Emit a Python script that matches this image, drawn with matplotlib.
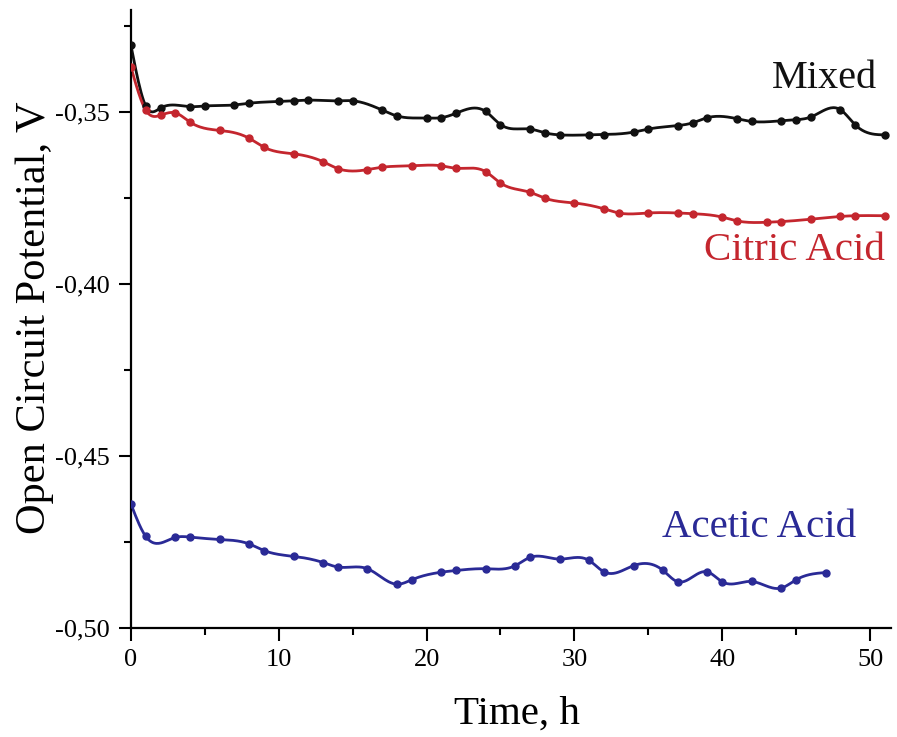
import numpy as np
import matplotlib
matplotlib.use("Agg")
import matplotlib.pyplot as plt
from matplotlib.ticker import MultipleLocator, FuncFormatter

plt.rcParams['font.family'] = ['Liberation Serif', 'DejaVu Serif']

# Open circuit potential (V) versus immersion time (h)
mixed_t = [0, 1, 2, 4, 5, 7, 8, 10, 11, 12, 14, 15, 17, 18, 20, 21, 22, 24, 25,
           27, 28, 29, 31, 32, 34, 35, 37, 38, 39, 41, 42, 44, 45, 46, 48, 49, 51]
mixed_v = [-0.3307, -0.3483, -0.3489, -0.3485, -0.3483, -0.3480, -0.3475, -0.3470,
           -0.3468, -0.3466, -0.3468, -0.3468, -0.3495, -0.3512, -0.3518, -0.3517,
           -0.3504, -0.3499, -0.3537, -0.3550, -0.3561, -0.3567, -0.3567, -0.3566,
           -0.3559, -0.3550, -0.3540, -0.3532, -0.3517, -0.3520, -0.3528, -0.3526,
           -0.3523, -0.3515, -0.3494, -0.3538, -0.3567]

citric_t = [0, 1, 2, 3, 4, 6, 8, 9, 11, 13, 14, 16, 17, 19, 21, 22, 24, 25, 27,
            28, 30, 32, 33, 35, 37, 38, 40, 41, 43, 44, 46, 48, 49, 51]
citric_v = [-0.3370, -0.3495, -0.3510, -0.3503, -0.3530, -0.3554, -0.3577, -0.3603,
            -0.3622, -0.3645, -0.3665, -0.3668, -0.3661, -0.3657, -0.3657, -0.3664,
            -0.3674, -0.3707, -0.3734, -0.3751, -0.3765, -0.3782, -0.3794, -0.3794,
            -0.3794, -0.3796, -0.3806, -0.3817, -0.3821, -0.3819, -0.3812, -0.3804,
            -0.3802, -0.3802]

acetic_t = [0, 1, 3, 4, 6, 8, 9, 11, 13, 14, 16, 18, 19, 21, 22, 24, 26, 27, 29,
            31, 32, 34, 36, 37, 39, 40, 42, 44, 45, 47]
acetic_v = [-0.4640, -0.4734, -0.4737, -0.4736, -0.4743, -0.4756, -0.4775, -0.4792,
            -0.4810, -0.4823, -0.4828, -0.4873, -0.4860, -0.4838, -0.4833, -0.4828,
            -0.4819, -0.4795, -0.4800, -0.4804, -0.4837, -0.4819, -0.4833, -0.4866,
            -0.4837, -0.4866, -0.4865, -0.4884, -0.4860, -0.4839]

series_names = ["Mixed", "Citric Acid", "Acetic Acid"]
series_colors = ["#111111", "#c4262e", "#2a2a96"]


def natural_spline(x, y, n=600):
    """Natural cubic spline through (x, y), sampled densely for a smooth line."""
    x = np.asarray(x, float)
    y = np.asarray(y, float)
    h = np.diff(x)
    m = len(x)
    A = np.zeros((m, m))
    b = np.zeros(m)
    A[0, 0] = A[-1, -1] = 1.0
    for i in range(1, m - 1):
        A[i, i - 1] = h[i - 1]
        A[i, i] = 2 * (h[i - 1] + h[i])
        A[i, i + 1] = h[i]
        b[i] = 6 * ((y[i + 1] - y[i]) / h[i] - (y[i] - y[i - 1]) / h[i - 1])
    M = np.linalg.solve(A, b)
    xs = np.linspace(x[0], x[-1], n)
    idx = np.clip(np.searchsorted(x, xs) - 1, 0, m - 2)
    x0, x1 = x[idx], x[idx + 1]
    hh = x1 - x0
    a = (x1 - xs) / hh
    c = (xs - x0) / hh
    ys = (a * y[idx] + c * y[idx + 1]
          + ((a ** 3 - a) * M[idx] + (c ** 3 - c) * M[idx + 1]) * hh ** 2 / 6)
    return xs, ys


fig = plt.figure(figsize=(8.97, 7.37), dpi=100)
ax = fig.add_axes([0.146, 0.148, 0.847, 0.838])

for t, v, col in [(mixed_t, mixed_v, series_colors[0]),
                  (citric_t, citric_v, series_colors[1]),
                  (acetic_t, acetic_v, series_colors[2])]:
    xs, ys = natural_spline(t, v)
    ax.plot(xs, ys, color=col, lw=2.0, zorder=2)
    ax.plot(t, v, 'o', color=col, ms=5, zorder=3)

ax.set_xlim(0, 51.4)
ax.set_ylim(-0.50, -0.3205)

ax.xaxis.set_major_locator(MultipleLocator(10))
ax.xaxis.set_minor_locator(MultipleLocator(5))
ax.yaxis.set_major_locator(MultipleLocator(0.05))
ax.yaxis.set_minor_locator(MultipleLocator(0.025))
ax.yaxis.set_major_formatter(FuncFormatter(lambda v, p: f"{v:.2f}".replace('.', ',').replace('\u2212', '-')))
ax.xaxis.set_major_formatter(FuncFormatter(lambda v, p: f"{v:.0f}"))

for side in ("top", "right"):
    ax.spines[side].set_visible(False)
for side in ("left", "bottom"):
    ax.spines[side].set_linewidth(1.6)

ax.tick_params(which='major', direction='out', length=9, width=1.5, labelsize=19, pad=6)
ax.tick_params(which='minor', direction='out', length=5, width=1.5)

ax.set_xlabel("Time, h", fontsize=29.5)
ax.xaxis.set_label_coords(0.508, -0.11)
ax.set_ylabel("Open Circuit Potential, V", fontsize=30.5)
ax.yaxis.set_label_coords(-0.101, 0.502)

ax.text(50.5, -0.3404, series_names[0], color=series_colors[0], fontsize=29,
        ha='right', va='center')
ax.text(51.0, -0.3902, series_names[1], color=series_colors[1], fontsize=29.5,
        ha='right', va='center')
ax.text(49.1, -0.4708, series_names[2], color=series_colors[2], fontsize=29.5,
        ha='right', va='center')

fig.savefig("out.png", dpi=100)
